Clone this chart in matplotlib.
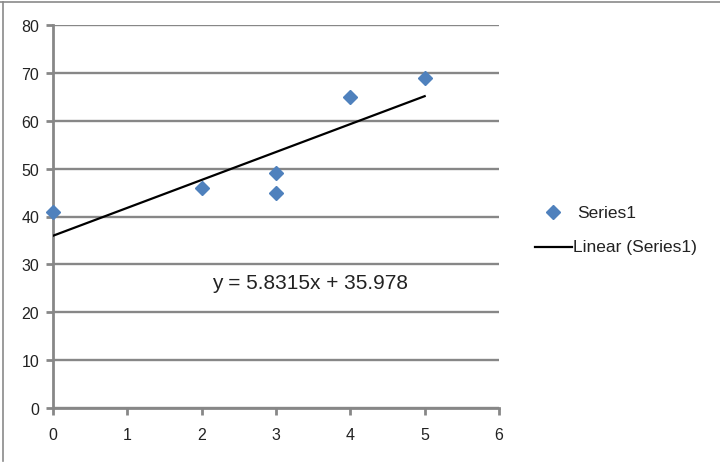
import numpy as np
import matplotlib
matplotlib.use("Agg")
import matplotlib.pyplot as plt
from matplotlib.lines import Line2D

x_vals = [0, 2, 3, 3, 4, 5]
y_vals = [41, 46, 49, 45, 65, 69]
x_ticks = [0, 1, 2, 3, 4, 5, 6]
y_ticks = [0, 10, 20, 30, 40, 50, 60, 70, 80]
series_name = "Series1"
trend_name = "Linear (Series1)"

plt.rcParams['font.family'] = ['Liberation Sans', 'DejaVu Sans']

fig = plt.figure(figsize=(7.2, 4.77), dpi=100)
ax = fig.add_axes([53/720, 1-409/477, 446/720, 383/477])

grid_c = '#878787'
ax.set_xlim(0, 6)
ax.set_ylim(0, 80)
ax.set_xticks(x_ticks)
ax.set_yticks(y_ticks)
ax.yaxis.grid(True, color=grid_c, linewidth=1.7)
ax.set_axisbelow(True)
for s in ['top', 'right']:
    ax.spines[s].set_visible(False)
for s in ['left', 'bottom']:
    ax.spines[s].set_color(grid_c)
    ax.spines[s].set_linewidth(2.0)
ax.tick_params(axis='both', colors=grid_c, width=2.0, length=5,
               labelcolor='#222222', labelsize=11.5)
ax.tick_params(axis='x', pad=9)
ax.tick_params(axis='y', pad=5)

coef = np.polyfit(x_vals, y_vals, 1)
xt = np.array([min(x_vals), max(x_vals)])
ax.plot(xt, np.polyval(coef, xt), color='black', linewidth=1.6, zorder=3)
ax.plot(x_vals, y_vals, linestyle='none', marker='D', markersize=7.4,
        color='#4F81BD', markeredgecolor='#4F81BD', clip_on=False, zorder=4)

ax.text(2.14, 26.3, "y = %.4fx + %.3f" % (coef[0], coef[1]), fontsize=15,
        color='#222222', va='center', ha='left')

# legend
fig.add_artist(Line2D([553/720], [1-213/477], marker='D', markersize=7.4,
                      color='#4F81BD', linestyle='none'))
fig.text(577/720, 1-213/477, series_name, fontsize=12.5, color='#222222',
         va='center', ha='left')
fig.add_artist(Line2D([535/720, 572/720], [1-248/477, 1-248/477],
                      color='black', linewidth=1.6))
fig.text(573/720, 1-248/477, trend_name, fontsize=12.5, color='#222222',
         va='center', ha='left')

# outer frame fragments
fig.add_artist(Line2D([0, 1], [1-3/477, 1-3/477], color='#8a8a8a', linewidth=1.2))
fig.add_artist(Line2D([3/720, 3/720], [1-3/477, 1-462/477], color='#8a8a8a', linewidth=1.2))

fig.savefig("out.png", dpi=100)
